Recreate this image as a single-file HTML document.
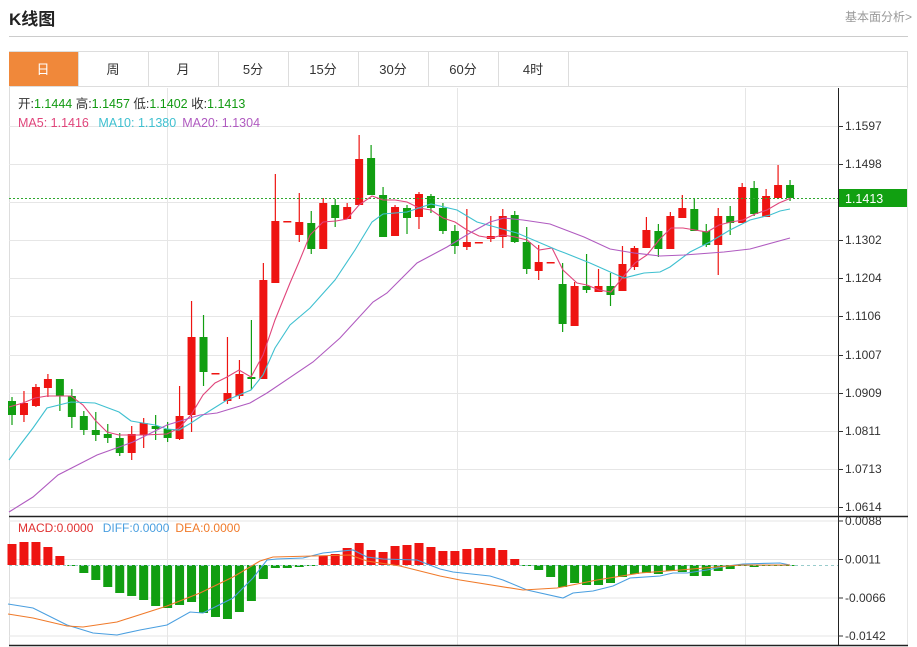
<!DOCTYPE html>
<html><head><meta charset="utf-8">
<style>
html,body{margin:0;padding:0;background:#fff;width:917px;height:647px;overflow:hidden;font-family:"Liberation Sans","Noto Sans CJK SC",sans-serif;}
#t{position:absolute;left:9px;top:5px;font-size:17px;font-weight:bold;color:#222;}
#r{position:absolute;right:5px;top:8px;font-size:12px;color:#999;}
svg{position:absolute;left:0;top:0;}
</style></head><body>
<div id="t">K线图</div>
<div id="r">基本面分析&gt;</div>
<svg id="s" width="917" height="647" xmlns="http://www.w3.org/2000/svg" font-family="Liberation Sans, Noto Sans CJK SC, sans-serif">
<line x1="9" y1="36.5" x2="908" y2="36.5" stroke="#ccc"/>
<rect x="9.5" y="51.5" width="898" height="594" fill="none" stroke="#ddd"/>
<line x1="9" y1="86.5" x2="908" y2="86.5" stroke="#ddd"/>
<rect x="9" y="52" width="69" height="34" fill="#f0883a"/>
<g stroke="#ddd"><line x1="148.5" y1="52" x2="148.5" y2="86"/><line x1="218.5" y1="52" x2="218.5" y2="86"/><line x1="288.5" y1="52" x2="288.5" y2="86"/><line x1="358.5" y1="52" x2="358.5" y2="86"/><line x1="428.5" y1="52" x2="428.5" y2="86"/><line x1="498.5" y1="52" x2="498.5" y2="86"/><line x1="568.5" y1="52" x2="568.5" y2="86"/><line x1="78.5" y1="52" x2="78.5" y2="86"/></g>
<g font-size="13" fill="#333" text-anchor="middle">
<text x="43" y="74" fill="#fff">日</text><text x="113" y="74">周</text><text x="183" y="74">月</text><text x="253" y="74">5分</text><text x="323" y="74">15分</text><text x="393" y="74">30分</text><text x="463" y="74">60分</text><text x="533" y="74">4时</text></g>
<g id="grid" stroke="#e6e6e6"></g>
<text x="18" y="108" font-size="12.5" fill="#333">开:<tspan fill="#129a12">1.1444</tspan>  高:<tspan fill="#129a12">1.1457</tspan>  低:<tspan fill="#129a12">1.1402</tspan>  收:<tspan fill="#129a12">1.1413</tspan></text>
<text x="18" y="127" font-size="12.5" fill="#e0457b">MA5: 1.1416 <tspan fill="#3fc0d0" dx="6">MA10: 1.1380</tspan><tspan fill="#b05bc0" dx="6">MA20: 1.1304</tspan></text>
<text x="18" y="532" font-size="12" fill="#e03030">MACD:0.0000 <tspan fill="#4a9fe0" dx="6">DIFF:0.0000</tspan><tspan fill="#f07a2a" dx="6">DEA:0.0000</tspan></text>
<g id="c"></g>
<line x1="9" y1="198.5" x2="838" y2="198.5" stroke="#2ea82e" stroke-dasharray="2,2"/>
<line x1="9" y1="565.5" x2="838" y2="565.5" stroke="#9cc" stroke-dasharray="3,3"/>
<g id="l" fill="none" stroke-width="1.1"></g>
<line x1="838.5" y1="88" x2="838.5" y2="645" stroke="#222"/>
<line x1="9" y1="516.5" x2="908" y2="516.5" stroke="#222" stroke-width="1.5"/>
<line x1="9" y1="645.5" x2="908" y2="645.5" stroke="#222" stroke-width="1.5"/>
<g id="ax" font-size="12" fill="#333"></g>
<rect x="839" y="189" width="68" height="18" fill="#11a011"/>
<text x="845" y="203" font-size="12.5" fill="#fff">1.1413</text>
</svg>
<script>
var N='http://www.w3.org/2000/svg';
function el(p,t,a,txt){var e=document.createElementNS(N,t);for(var k in a)e.setAttribute(k,a[k]);if(txt)e.textContent=txt;document.getElementById(p).appendChild(e);return e;}
var py=[126,164,202,240,278,316,355,393,431,469,507],pl=['1.1597','1.1498','','1.1302','1.1204','1.1106','1.1007','1.0909','1.0811','1.0713','1.0614'];
py.forEach(function(y,i){el('grid','line',{x1:9,x2:838,y1:y+.5,y2:y+.5});if(pl[i]){el('ax','line',{x1:838,x2:843,y1:y+.5,y2:y+.5,stroke:'#333'});el('ax','text',{x:845,y:y+4},pl[i]);}});
var my=[521,559.5,598,636],ml=['0.0088','0.0011','-0.0066','-0.0142'];
my.forEach(function(y,i){el('grid','line',{x1:9,x2:838,y1:y,y2:y});el('ax','line',{x1:838,x2:843,y1:y,y2:y,stroke:'#333'});el('ax','text',{x:845,y:y+4},ml[i]);});
[167,457,745].forEach(function(x){el('grid','line',{x1:x+.5,x2:x+.5,y1:88,y2:645});});
el('grid','line',{x1:907.5,x2:907.5,y1:88,y2:645});
var C=[['g',401,415,397,425],['r',403,415,391,422],['r',387,406,384,407],['r',379,388,374,397],['g',379,396,379,411],['g',396,417,389,428],['g',416,430,411,435],['g',430,435,412,441],['g',434,438,424,443],['g',438,453,433,456],['r',434,453,426,460],['r',423,435,418,448],['g',426,429,415,440],['g',429,438,422,442],['r',416,439,386,440],['r',337,415,301,432],['g',337,372,315,386],['r',373,373,373,373],['r',393,401,337,404],['r',374,396,360,399],['g',377,379,320,390],['r',280,379,263,379],['r',221,283,174,283],['r',221,221,221,221],['r',222,235,193,242],['g',223,249,211,254],['r',203,249,198,249],['g',205,218,199,227],['r',207,219,203,219],['r',159,205,135,205],['g',158,195,145,195],['g',195,237,187,237],['r',207,236,205,236],['g',208,218,205,234],['r',194,217,192,229],['g',196,208,194,213],['g',208,231,203,234],['g',231,246,225,254],['r',242,247,209,250],['r',242,242,242,242],['r',236,239,216,242],['r',216,237,209,248],['g',215,242,211,243],['g',242,269,227,274],['r',262,271,245,280],['r',262,262,262,262],['g',284,324,263,332],['r',286,326,282,326],['g',286,290,254,293],['r',286,292,269,292],['g',286,295,273,306],['r',264,291,246,291],['r',248,267,246,270],['r',230,248,217,248],['g',231,249,224,257],['r',216,249,212,249],['r',208,218,195,218],['g',209,231,199,231],['g',231,245,224,247],['r',216,245,208,275],['g',216,223,206,235],['r',187,223,183,223],['g',188,214,181,216],['r',196,217,189,217],['r',185,198,165,198],['g',185,198,180,201]];
var R='#ee1411',G='#119e11';
C.forEach(function(c,i){var x=12+i*11.97,col=c[0]=='r'?R:G;
el('c','line',{x1:x,x2:x,y1:c[3],y2:c[4],stroke:col,'stroke-width':1.2});
var h=Math.max(c[2]-c[1],1.5);el('c','rect',{x:x-4,y:c[1],width:8,height:h,fill:col});});
var M=[544,542,542,547,556,565,
573,580,587,593,596,600,606,608,605,602,613,617,619,612,601,579,568,568,567,566,
556,554,548,543,550,552,546,545,543,547,
551,551,549,548,548,550,559,
566,570,577,587,583,585,585,583,577,574,573,574,571,572,576,576,571,569,565,567,
565,565,565];
M.forEach(function(v,i){var x=12+i*11.97;var t=Math.min(v,565),h=Math.abs(v-565);if(h<1)h=1;el('c','rect',{x:x-4.5,y:t,width:9,height:h,fill:v<565?R:G});});
function pl2(pts,col){el('l','polyline',{points:pts,stroke:col});}
pl2('9,407 23,403 35,398 47,396 59,396 71,396 83,405 95,420 107,432 119,435 143,435 167,434 179,428 191,415 203,395 215,383 227,377 239,370 251,377 263,355 275,320 290,283 299,262 310,235 323,222 336,221 347,219 359,205 372,196 383,200 395,200 407,202 419,208 431,210 443,218 455,222 467,230 479,236 491,238 503,235 515,237 527,240 539,250 552,248 563,270 577,283 587,285 599,290 611,292 623,277 635,263 647,255 659,240 671,228 683,228 695,230 707,232 719,225 731,222 743,220 755,214 767,210 779,203 791,198','#e0457b');
pl2('9,460 20,445 33,428 47,408 71,402 95,403 119,412 131,421 155,425 167,429 179,430 191,423 203,415 227,400 251,390 263,375 275,348 290,325 310,308 335,280 355,250 372,222 383,214 407,212 431,204 457,210 477,222 517,233 557,250 565,253 590,263 617,275 624,278 644,273 660,272 670,267 690,252 710,242 730,230 750,220 770,215 780,211 790,209','#3fc0d0');
pl2('9,512 33,497 58,475 97,455 133,442 167,425 200,415 217,413 250,403 267,393 313,362 340,338 373,302 387,293 417,263 447,247 470,233 490,222 504,218 523,220 550,224 584,237 610,249 634,253 660,256 684,255 724,252 750,249 790,238','#b05bc0');
pl2('8,604 33,608 67,625 93,633 117,635 140,630 167,625 190,612 203,613 233,598 253,578 267,560 277,559 303,558 323,553 353,550 367,557 383,559 417,560 440,569 453,572 490,576 503,580 527,590 563,598 573,593 593,591 613,586 630,578 660,576 673,573 687,573 707,570 727,566 743,564 780,563 790,565','#4a9fe0');
pl2('8,614 33,618 67,626 83,627 117,622 167,606 200,593 233,577 260,561 273,557 313,556 350,555 367,561 400,566 440,576 460,580 523,590 557,588 597,580 640,573 680,570 740,565 790,565','#f07a2a');
</script>
</body></html>
